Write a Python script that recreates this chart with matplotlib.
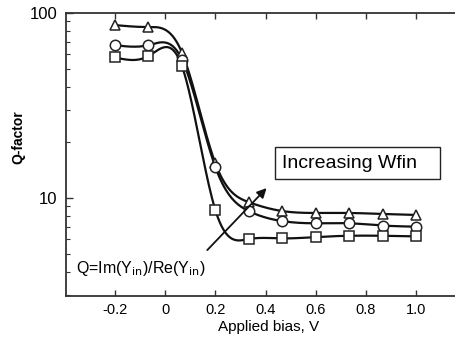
import numpy as np
import matplotlib
matplotlib.use('Agg')
import matplotlib.pyplot as plt
from matplotlib.patches import Rectangle
from matplotlib.ticker import FixedLocator, FixedFormatter, NullFormatter, LogLocator

plt.rcParams['font.family'] = ['Liberation Sans', 'DejaVu Sans']

# applied bias (V) and Q-factor for three fin widths
bias = [-0.2, -0.067, 0.067, 0.2, 0.333, 0.467, 0.6, 0.733, 0.867, 1.0]
q_triangle = [86, 84, 61, 15.4, 9.5, 8.5, 8.3, 8.3, 8.2, 8.1]
q_circle = [67, 67, 56, 14.7, 8.5, 7.5, 7.3, 7.3, 7.1, 7.0]
q_square = [57.5, 58.5, 51.5, 8.6, 6.0, 6.05, 6.15, 6.25, 6.25, 6.2]

x_ticks = [-0.2, 0, 0.2, 0.4, 0.6, 0.8, 1.0]
x_ticklabels = ['-0.2', '0', '0.2', '0.4', '0.6', '0.8', '1.0']


def natural_spline(x, y, n=300):
    # natural cubic spline through the points, for the smooth curves
    x = np.asarray(x, float)
    y = np.asarray(y, float)
    m = len(x)
    h = np.diff(x)
    A = np.zeros((m, m))
    b = np.zeros(m)
    A[0, 0] = A[-1, -1] = 1
    for i in range(1, m - 1):
        A[i, i - 1] = h[i - 1]
        A[i, i] = 2 * (h[i - 1] + h[i])
        A[i, i + 1] = h[i]
        b[i] = 3 * ((y[i + 1] - y[i]) / h[i] - (y[i] - y[i - 1]) / h[i - 1])
    c = np.linalg.solve(A, b)
    xs = np.linspace(x[0], x[-1], n)
    ys = np.empty_like(xs)
    for k, xv in enumerate(xs):
        i = min(np.searchsorted(x, xv, side='right') - 1, m - 2)
        d = xv - x[i]
        bi = (y[i + 1] - y[i]) / h[i] - h[i] * (2 * c[i] + c[i + 1]) / 3
        di = (c[i + 1] - c[i]) / (3 * h[i])
        ys[k] = y[i] + bi * d + c[i] * d ** 2 + di * d ** 3
    return xs, ys


fig = plt.figure(figsize=(4.55, 3.38), dpi=100)
ax = fig.add_axes([0.145, 0.124, 0.855, 0.8375])

for q, marker in [(q_triangle, '^'), (q_circle, 'o'), (q_square, 's')]:
    xs, ys = natural_spline(bias, np.log10(q))
    ax.plot(xs, 10 ** ys, color='#111111', lw=1.6, zorder=2)
    ax.plot(bias, q, linestyle='none', marker=marker, markersize=7.5,
            markerfacecolor='white', markeredgecolor='#222222', markeredgewidth=1.1, zorder=3)

ax.set_yscale('log')
ax.set_xlim(-0.396, 1.156)
ax.set_ylim(2.95, 100)

ax.xaxis.set_major_locator(FixedLocator(x_ticks))
ax.xaxis.set_major_formatter(FixedFormatter(x_ticklabels))
ax.yaxis.set_major_locator(FixedLocator([10, 100]))
ax.yaxis.set_major_formatter(FixedFormatter(['10', '100']))
ax.yaxis.set_minor_locator(LogLocator(base=10, subs=np.arange(2, 10)))
ax.yaxis.set_minor_formatter(NullFormatter())

ax.tick_params(axis='x', which='major', direction='in', top=True, length=4,
               width=1, labelsize=10.5, pad=5, color='#333333')
ax.tick_params(axis='y', which='major', direction='in', length=5, width=1,
               labelsize=12, pad=6, color='#333333')
ax.tick_params(axis='y', which='minor', direction='in', length=3, width=0.8, color='#333333')

for side in ['left', 'bottom', 'top']:
    ax.spines[side].set_linewidth(1.3)
    ax.spines[side].set_color('#333333')
ax.spines['right'].set_visible(False)

ax.set_xlabel('Applied bias, V', fontsize=11, labelpad=0)
ax.xaxis.set_label_coords(0.52, -0.085)
ax.set_ylabel('Q-factor', fontsize=10, fontweight='bold')
ax.yaxis.set_label_coords(-0.105, 0.56)

ax.text(-0.356, 4.15, r'Q=Im(Y$_{\mathrm{in}}$)/Re(Y$_{\mathrm{in}}$)', fontsize=11.5,
        ha='left', va='center')

# labelled box
ax.add_patch(Rectangle((0.537, 0.413), 0.424, 0.114, transform=ax.transAxes,
                       facecolor='white', edgecolor='#222222', lw=1, zorder=4))
ax.text(0.555, 0.47, 'Increasing Wfin', transform=ax.transAxes, fontsize=14,
        ha='left', va='center', zorder=5)
ax.annotate('', xy=(0.412, 11.6), xytext=(0.16, 5.1),
            arrowprops=dict(arrowstyle='-|>', color='#111111', lw=1.3, mutation_scale=14),
            zorder=4)

fig.savefig('out.png', dpi=100)
